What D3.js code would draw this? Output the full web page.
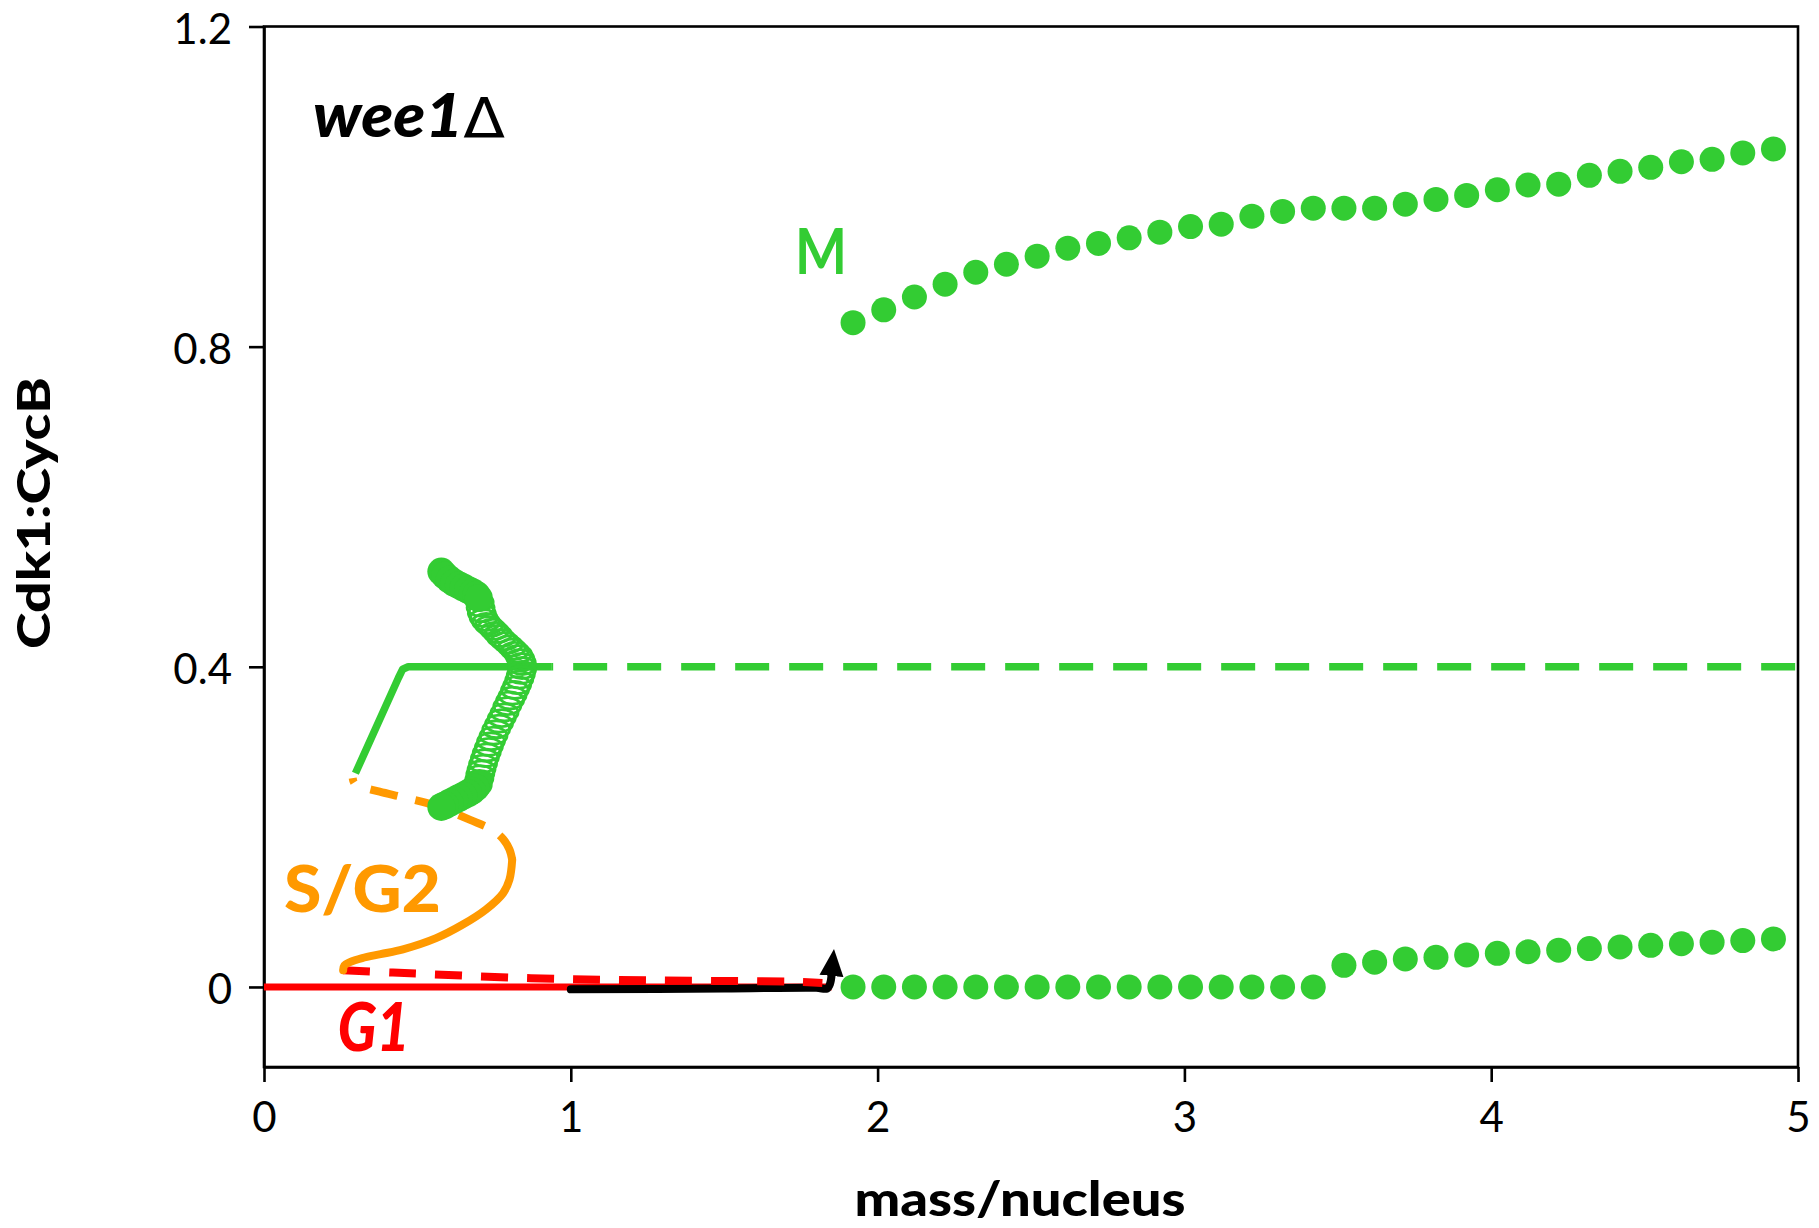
<!DOCTYPE html>
<html>
<head>
<meta charset="utf-8">
<script src="https://cdn.jsdelivr.net/npm/d3@7"></script>
<style>
  body { margin: 0; background: #ffffff; }
  svg { display: block; }
</style>
</head>
<body>
<svg id="chart" width="1819" height="1228"></svg>
<script>
// ---- axis ticks ----
const massTicks = [0, 1, 2, 3, 4, 5];
const massTickLabels = ["0", "1", "2", "3", "4", "5"];
const cdkTicks = [0, 0.4, 0.8, 1.2];
const cdkTickLabels = ["0", "0.4", "0.8", "1.2"];

// ---- oscillation extrema (filled dots): mass/nucleus, max and min Cdk1:CycB ----
const cycleMass = [1.92, 2.02, 2.12, 2.22, 2.32, 2.42, 2.52, 2.62, 2.72, 2.82, 2.92,
                   3.02, 3.12, 3.22, 3.32, 3.42, 3.52, 3.62, 3.72, 3.82, 3.92,
                   4.02, 4.12, 4.22, 4.32, 4.42, 4.52, 4.62, 4.72, 4.82, 4.92];
const cycleMax = [0.830, 0.846, 0.862, 0.878, 0.893, 0.903, 0.913, 0.923, 0.929, 0.936, 0.943,
                  0.950, 0.953, 0.963, 0.969, 0.973, 0.973, 0.973, 0.978, 0.984, 0.989,
                  0.996, 1.002, 1.003, 1.014, 1.019, 1.024, 1.031, 1.034, 1.042, 1.047];
const cycleMin = [0, 0, 0, 0, 0, 0, 0, 0, 0, 0, 0,
                  0, 0, 0, 0, 0, 0.027, 0.031, 0.035, 0.037, 0.040,
                  0.042, 0.044, 0.046, 0.048, 0.050, 0.052, 0.054, 0.056, 0.058, 0.060];

// ---- small limit cycles near the Hopf point: [mass, Cdk1:CycB] ----
const smallCycleStableMax = [[0.578, 0.519], [0.590, 0.514], [0.605, 0.509], [0.620, 0.505],
  [0.635, 0.502], [0.650, 0.499], [0.665, 0.496], [0.680, 0.493], [0.692, 0.490], [0.700, 0.486]];
const smallCycleUnstableMax = [[0.703, 0.481], [0.706, 0.474], [0.710, 0.467], [0.716, 0.461],
  [0.724, 0.456], [0.733, 0.452], [0.742, 0.449], [0.752, 0.445], [0.762, 0.441], [0.773, 0.436],
  [0.785, 0.432], [0.797, 0.428], [0.808, 0.424], [0.818, 0.420], [0.828, 0.416], [0.835, 0.411],
  [0.840, 0.406], [0.842, 0.401]];
const smallCycleUnstableMin = [[0.841, 0.396], [0.837, 0.390], [0.832, 0.384], [0.825, 0.377],
  [0.818, 0.371], [0.810, 0.364], [0.802, 0.358], [0.793, 0.351], [0.784, 0.343], [0.775, 0.336],
  [0.766, 0.329], [0.757, 0.322], [0.748, 0.314], [0.740, 0.307], [0.733, 0.300], [0.726, 0.293],
  [0.720, 0.286], [0.714, 0.279], [0.709, 0.272], [0.705, 0.266], [0.702, 0.260]];
const smallCycleStableMin = [[0.700, 0.254], [0.690, 0.249], [0.678, 0.245], [0.665, 0.242],
  [0.650, 0.239], [0.635, 0.236], [0.620, 0.233], [0.605, 0.230], [0.590, 0.227], [0.578, 0.225]];

// ---- steady states: [mass, Cdk1:CycB] ----
const g1Stable = [[0, 0], [1.85, 0]];
const g1Unstable = [[0.258, 0.021], [0.42, 0.018], [0.87, 0.011], [1.30, 0.008], [1.72, 0.0066], [1.82, 0.005]];
const sg2Stable = [[0.258, 0.021], [0.262, 0.027], [0.280, 0.031], [0.320, 0.036], [0.380, 0.041],
  [0.453, 0.047], [0.561, 0.061], [0.648, 0.078], [0.724, 0.097], [0.779, 0.117], [0.800, 0.134], [0.809, 0.159]];
const sg2Unstable = [[0.809, 0.159], [0.800, 0.172], [0.779, 0.185], [0.746, 0.196], [0.670, 0.209],
  [0.583, 0.223], [0.529, 0.230], [0.442, 0.238], [0.377, 0.244], [0.311, 0.251], [0.294, 0.255], [0.289, 0.261]];
const mStable = [[0.298, 0.267], [0.438, 0.386], [0.452, 0.397], [0.470, 0.400], [0.936, 0.400]];
const mUnstable = [[0.936, 0.400], [5, 0.400]];

// ---- trajectory of a growing cell ----
const trajectory = [[1.0, -0.003], [1.5, -0.002], [1.80, -0.001], [1.835, -0.002], [1.845, 0.004], [1.850, 0.015]];

// ---- colours ----
const GREEN = "#33cc33", ORANGE = "#ff9900", RED = "#ff0000";

const svg = d3.select("#chart");
const margin = { left: 264, right: 21, top: 26.5, bottom: 161 };
const W = 1819, H = 1228;

const x = d3.scaleLinear().domain([0, 5]).range([margin.left, W - margin.right]);
const y = d3.scaleLinear().domain([-0.1, 1.2]).range([H - margin.bottom, margin.top]);

const FONT = "Lato, 'Open Sans', sans-serif";

// plot frame
svg.append("rect")
  .attr("x", x(0)).attr("y", y(1.2))
  .attr("width", x(5) - x(0)).attr("height", y(-0.1) - y(1.2))
  .attr("fill", "none").attr("stroke", "#000").attr("stroke-width", 2.6);

// axes
const xAxis = d3.axisBottom(x).tickValues(massTicks)
  .tickFormat((d, i) => massTickLabels[i]).tickSize(15).tickSizeOuter(0).tickPadding(20);
const yAxis = d3.axisLeft(y).tickValues(cdkTicks)
  .tickFormat((d, i) => cdkTickLabels[i]).tickSize(15).tickSizeOuter(0).tickPadding(17);

const gx = svg.append("g").attr("transform", `translate(0,${y(-0.1)})`).call(xAxis);
const gy = svg.append("g").attr("transform", `translate(${x(0)},0)`).call(yAxis);
[gx, gy].forEach(g => {
  g.select(".domain").attr("stroke", "#000").attr("stroke-width", 2.6);
  g.selectAll(".tick line").attr("stroke", "#000").attr("stroke-width", 2.6);
  g.selectAll(".tick text").attr("fill", "#000")
    .style("font-family", FONT).style("font-size", "42px");
});
gy.selectAll(".tick text").attr("dy", "0.4em");

// axis titles
svg.append("text")
  .attr("x", 1020).attr("y", 1216)
  .attr("text-anchor", "middle")
  .attr("textLength", 331).attr("lengthAdjust", "spacingAndGlyphs")
  .style("font-family", FONT).style("font-weight", 900).style("font-size", "48px")
  .text("mass/nucleus");

svg.append("text")
  .attr("transform", "translate(50,513) rotate(-90)")
  .attr("text-anchor", "middle")
  .attr("textLength", 272).attr("lengthAdjust", "spacingAndGlyphs")
  .style("font-family", FONT).style("font-weight", 900).style("font-size", "46px")
  .text("Cdk1:CycB");

const line = d3.line().x(d => x(d[0])).y(d => y(d[1]));
const smooth = d3.line().x(d => x(d[0])).y(d => y(d[1])).curve(d3.curveCatmullRom.alpha(0.5));

const plot = svg.append("g");

// G1 branch
plot.append("path").datum(g1Stable).attr("d", line)
  .attr("fill", "none").attr("stroke", RED).attr("stroke-width", 7);

// growth trajectory with arrow
const defs = svg.append("defs");
defs.append("marker")
  .attr("id", "arrowhead")
  .attr("markerUnits", "userSpaceOnUse")
  .attr("viewBox", "0 -13 28 26")
  .attr("markerWidth", 28).attr("markerHeight", 26)
  .attr("refX", 1).attr("refY", 0)
  .attr("orient", "auto")
  .append("path").attr("d", "M0,-12 L27,0 L0,12 Z").attr("fill", "#000");

plot.append("path").datum(trajectory).attr("d", smooth)
  .attr("fill", "none").attr("stroke", "#000").attr("stroke-width", 8)
  .attr("stroke-linecap", "round").attr("stroke-linejoin", "round")
  .attr("marker-end", "url(#arrowhead)");

plot.append("path").datum(g1Unstable).attr("d", smooth)
  .attr("fill", "none").attr("stroke", RED).attr("stroke-width", 8)
  .attr("stroke-dasharray", "27,19");

// S/G2 branch
plot.append("path").datum(sg2Stable).attr("d", smooth)
  .attr("fill", "none").attr("stroke", ORANGE).attr("stroke-width", 8)
  .attr("stroke-linecap", "round");
plot.append("path").datum(sg2Unstable).attr("d", smooth)
  .attr("fill", "none").attr("stroke", ORANGE).attr("stroke-width", 8)
  .attr("stroke-dasharray", "28,18");

// M branch steady state
plot.append("path").datum(mStable).attr("d", line)
  .attr("fill", "none").attr("stroke", GREEN).attr("stroke-width", 7.5)
  .attr("stroke-linejoin", "round");
plot.append("path").datum(mUnstable).attr("d", line)
  .attr("fill", "none").attr("stroke", GREEN).attr("stroke-width", 7.5)
  .attr("stroke-dasharray", "34,20").attr("stroke-dashoffset", -22);

// unstable small cycles: open rings
plot.append("g").selectAll("ellipse")
  .data(smallCycleUnstableMax.concat(smallCycleUnstableMin))
  .join("ellipse")
  .attr("cx", d => x(d[0])).attr("cy", d => y(d[1]))
  .attr("rx", 13.5).attr("ry", 8.5)
  .attr("fill", "none").attr("stroke", GREEN).attr("stroke-width", 2.8);

// stable small cycles: filled dots
plot.append("g").selectAll("circle")
  .data(smallCycleStableMax.concat(smallCycleStableMin))
  .join("circle")
  .attr("cx", d => x(d[0])).attr("cy", d => y(d[1]))
  .attr("r", 14).attr("fill", GREEN);

// large oscillations: max and min
const cycles = cycleMass.map((m, i) => ({ m, hi: cycleMax[i], lo: cycleMin[i] }));
plot.append("g").selectAll("circle.hi").data(cycles).join("circle")
  .attr("class", "hi")
  .attr("cx", d => x(d.m)).attr("cy", d => y(d.hi))
  .attr("r", 12.5).attr("fill", GREEN);
plot.append("g").selectAll("circle.lo").data(cycles).join("circle")
  .attr("class", "lo")
  .attr("cx", d => x(d.m)).attr("cy", d => y(d.lo))
  .attr("r", 12.5).attr("fill", GREEN);

// annotations
const wee = svg.append("text")
  .attr("x", x(0.16)).attr("y", y(1.062))
  .attr("textLength", 192).attr("lengthAdjust", "spacingAndGlyphs")
  .style("font-family", FONT).style("font-size", "60px")
  .attr("fill", "#000");
wee.append("tspan").style("font-weight", 900).style("font-style", "italic").text("wee1");
wee.append("tspan").style("font-family", "'DejaVu Sans', sans-serif").style("font-weight", 400)
  .style("font-size", "56px").text("Δ");

svg.append("text")
  .attr("x", x(1.731)).attr("y", y(0.891))
  .attr("textLength", 52).attr("lengthAdjust", "spacingAndGlyphs")
  .style("font-family", FONT).style("font-weight", 700).style("font-size", "64px")
  .attr("fill", GREEN).text("M");

svg.append("text")
  .attr("x", x(0.065)).attr("y", y(0.094))
  .attr("textLength", 157).attr("lengthAdjust", "spacingAndGlyphs")
  .style("font-family", FONT).style("font-weight", 900).style("font-size", "64px")
  .attr("fill", ORANGE).text("S/G2");

svg.append("text")
  .attr("x", x(0.24)).attr("y", y(-0.080))
  .attr("textLength", 72).attr("lengthAdjust", "spacingAndGlyphs")
  .style("font-family", FONT).style("font-weight", 900).style("font-style", "italic").style("font-size", "66px")
  .attr("fill", RED).text("G1");
</script>
</body>
</html>
